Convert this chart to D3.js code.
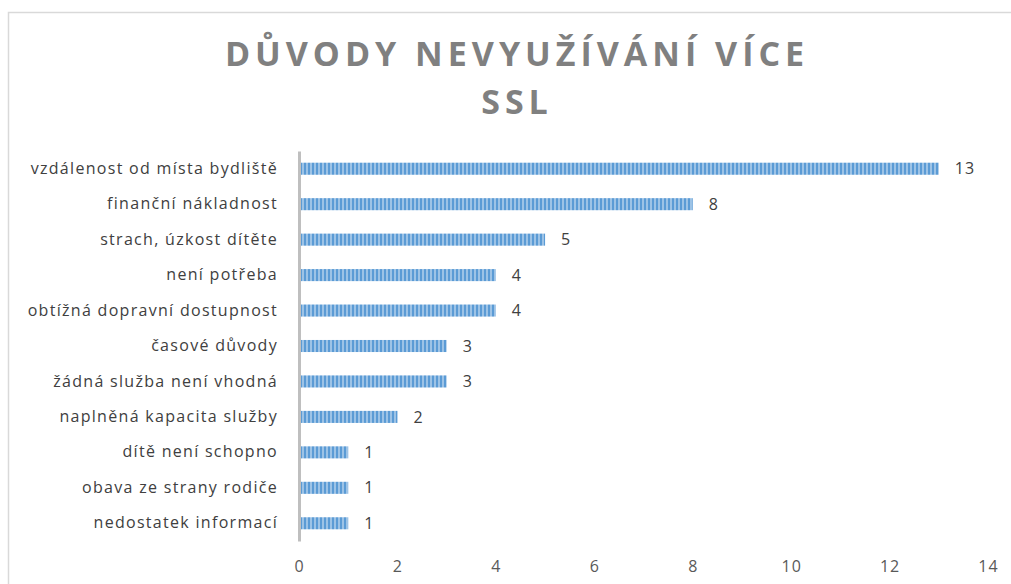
<!DOCTYPE html>
<html>
<head>
<meta charset="utf-8">
<script src="https://cdn.jsdelivr.net/npm/d3@7"></script>
<style>
  body { margin: 0; background: #fff; }
  svg { display: block; }
</style>
</head>
<body>
<div class="chart"></div>
<script>
// categories top to bottom and their counts
const reasons = [
  "vzdálenost od místa bydliště",
  "finanční nákladnost",
  "strach, úzkost dítěte",
  "není potřeba",
  "obtížná dopravní dostupnost",
  "časové důvody",
  "žádná služba není vhodná",
  "naplněná kapacita služby",
  "dítě není schopno",
  "obava ze strany rodiče",
  "nedostatek informací"
];
const counts = [13, 8, 5, 4, 4, 3, 3, 2, 1, 1, 1];
const xTicks = [0, 2, 4, 6, 8, 10, 12, 14];
const titleLines = ["DŮVODY NEVYUŽÍVÁNÍ VÍCE", "SSL"];

let w = 1011;
let h = 584;
let font = "'Open Sans', 'Noto Sans', sans-serif";

var svg = d3.select(".chart")
  .append("svg")
  .attr("width", w)
  .attr("height", h);

// striped fill like the original
var defs = svg.append("defs");
var pat = defs.append("pattern")
  .attr("id", "stripes")
  .attr("patternUnits", "userSpaceOnUse")
  .attr("width", 4)
  .attr("height", 4);
pat.append("rect").attr("width", 4).attr("height", 4).attr("fill", "#9dc3e6");
pat.append("rect").attr("width", 2).attr("height", 4).attr("fill", "#5b9bd5");

// outer frame
svg.append("path")
  .attr("d", `M8.5,${h} L8.5,12.5 L1011,12.5`)
  .attr("fill", "none")
  .attr("stroke", "#d9d9d9")
  .attr("stroke-width", 1.5);

// title
svg.selectAll(".title")
  .data(titleLines)
  .enter()
  .append("text")
  .attr("class", "title")
  .text(d => d)
  .attr("x", 517)
  .attr("y", (d, i) => 66 + i * 48)
  .attr("text-anchor", "middle")
  .attr("font-family", font)
  .attr("font-weight", "bold")
  .attr("font-size", "34px")
  .attr("letter-spacing", "5px")
  .attr("fill", "#808080");

var x = d3.scaleLinear().domain([0, 14]).range([299, 988]);
var y = d3.scaleBand().domain(reasons).range([151, 541]).paddingInner(0.66).paddingOuter(0.33);

svg.selectAll(".bar")
  .data(counts)
  .enter()
  .append("rect")
  .attr("class", "bar")
  .attr("x", x(0))
  .attr("y", (d, i) => y(reasons[i]))
  .attr("width", d => x(d) - x(0))
  .attr("height", y.bandwidth())
  .attr("fill", "url(#stripes)");

// value labels
svg.selectAll(".val")
  .data(counts)
  .enter()
  .append("text")
  .attr("class", "val")
  .text(d => d)
  .attr("x", d => x(d) + 16)
  .attr("y", (d, i) => y(reasons[i]) + y.bandwidth() / 2)
  .attr("dy", "0.35em")
  .attr("font-family", font)
  .attr("font-size", "16px")
  .attr("letter-spacing", "1px")
  .attr("fill", "#404040");

// category axis
var yAxis = svg.append("g")
  .attr("transform", `translate(${x(0)},0)`)
  .call(d3.axisLeft(y).tickSize(0).tickPadding(21));
yAxis.select(".domain").attr("stroke", "#bfbfbf").attr("stroke-width", 3);
yAxis.selectAll("text")
  .attr("font-family", font)
  .attr("font-size", "16px")
  .attr("letter-spacing", "1.3px")
  .attr("fill", "#404040");

// value axis, labels only
var xAxis = svg.append("g")
  .attr("transform", "translate(0,559)")
  .call(d3.axisBottom(x).tickValues(xTicks).tickSize(0).tickPadding(2));
xAxis.select(".domain").remove();
xAxis.selectAll("text")
  .attr("font-family", font)
  .attr("font-size", "16px")
  .attr("letter-spacing", "1px")
  .attr("fill", "#595959");
</script>
</body>
</html>
